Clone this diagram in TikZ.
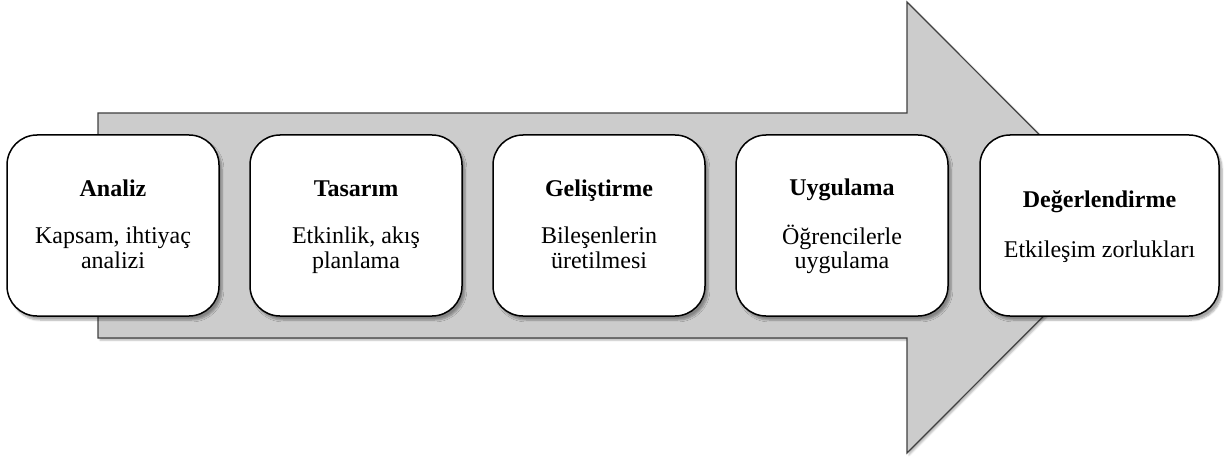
\documentclass[tikz,border=0pt]{standalone}
\usepackage{fontspec}
\setmainfont{Liberation Serif}
\usetikzlibrary{shadows.blur}
\tikzset{
  bigarrow/.style={draw=black!75, line width=1.2pt, fill=black!20, line join=miter,
    blur shadow={shadow xshift=2pt, shadow yshift=-2pt, shadow blur steps=5, shadow opacity=30}},
  stage/.style={draw=black, line width=1.5pt, fill=white, rounded corners=30pt,
    minimum height=181pt, align=center, inner sep=0pt,
    font=\fontsize{24}{24.5}\selectfont,
    blur shadow={shadow xshift=3pt, shadow yshift=-4pt, shadow blur steps=6, shadow opacity=35}},
}
\newcommand{\hd}[2][22.5pt]{\rule{0pt}{21pt}\textbf{#2}\\[#1]}
\newcommand{\sln}[1]{\strut #1}
\begin{document}
\begin{tikzpicture}[x=1pt,y=-1pt]
\useasboundingbox (0,0) rectangle (1225,457);
\draw[bigarrow] (98,113) -- (907,113) -- (907,2) -- (1132,227.5) -- (907,453) -- (907,338) -- (98,338) -- cycle;
\node[stage, minimum width=212pt] (a) at (113,225.5) {\hd{Analiz}\sln{Kapsam, ihtiyaç}\\\sln{analizi}};
\node[stage, minimum width=212pt] (t) at (356,225.5) {\hd{Tasarım}\sln{Etkinlik, akış}\\\sln{planlama}};
\node[stage, minimum width=212pt] (g) at (599,225.5) {\hd{Geliştirme}\sln{Bileşenlerin}\\\sln{üretilmesi}};
\node[stage, minimum width=212pt] (u) at (842,225.5) {\hd{Uygulama}\sln{Öğrencilerle}\\\sln{uygulama}};
\node[stage, minimum width=239pt] (d) at (1099.5,225.5) {\hd[25.5pt]{Değerlendirme}\sln{Etkileşim zorlukları}};
\end{tikzpicture}
\end{document}
